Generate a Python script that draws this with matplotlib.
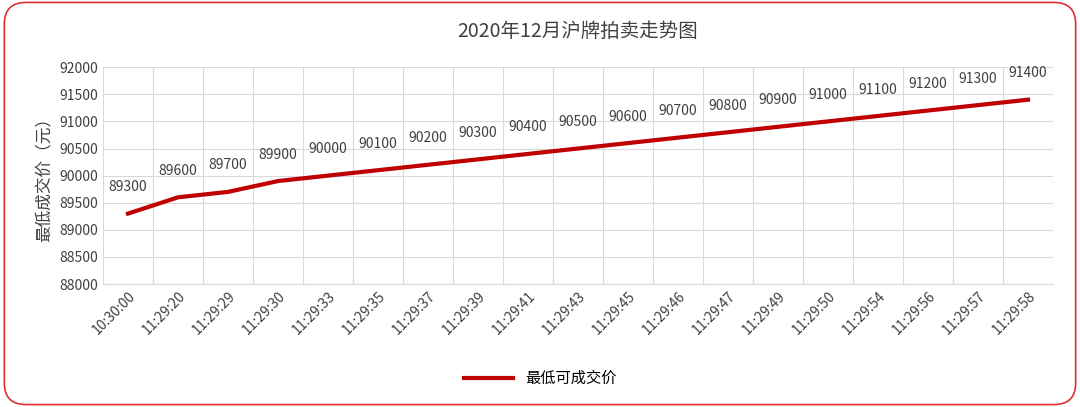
import matplotlib
matplotlib.use("Agg")
import matplotlib.pyplot as plt
from matplotlib.patches import FancyBboxPatch

plt.rcParams['font.family'] = ['Noto Sans CJK SC', 'DejaVu Sans']

times = ["10:30:00","11:29:20","11:29:29","11:29:30","11:29:33","11:29:35","11:29:37",
         "11:29:39","11:29:41","11:29:43","11:29:45","11:29:46","11:29:47","11:29:49",
         "11:29:50","11:29:54","11:29:56","11:29:57","11:29:58"]
prices = [89300,89600,89700,89900,90000,90100,90200,90300,90400,90500,90600,90700,
          90800,90900,91000,91100,91200,91300,91400]
yticks = list(range(88000, 92001, 500))

fig = plt.figure(figsize=(10.8, 4.07), dpi=100)
border = FancyBboxPatch((0.004, 0.006), 0.992, 0.988, boxstyle="round,pad=0,rounding_size=0.02",
                        transform=fig.transFigure, fill=False, edgecolor="#E03030", linewidth=1.2,
                        mutation_aspect=1080/407)
fig.patches.append(border)

ax = fig.add_axes([0.0954, 0.302, 0.8796, 0.533])
x = list(range(len(times)))
ax.plot(x, prices, color="#C00000", linewidth=3, label="最低可成交价", zorder=3)
for xi, p in zip(x, prices):
    ax.annotate(str(p), (xi, p), xytext=(0, 14), textcoords="offset points",
                ha="center", va="bottom", fontsize=10, color="#404040")
ax.set_xlim(-0.5, len(times) - 0.5)
ax.set_ylim(88000, 92000)
ax.set_yticks(yticks)
ax.set_yticklabels([str(v) for v in yticks], fontsize=10, color="#404040")
ax.set_xticks(x)
ax.set_xticklabels(times, rotation=45, ha="right", rotation_mode="anchor", fontsize=10, color="#404040")
ax.set_xticks([i - 0.5 for i in range(len(times) + 1)], minor=True)
ax.grid(True, which="minor", axis="x", color="#D9D9D9", linewidth=0.8)
ax.grid(True, which="major", axis="y", color="#D9D9D9", linewidth=0.8)
ax.tick_params(which="both", length=0)
for s in ["top", "right", "left"]:
    ax.spines[s].set_visible(False)
ax.spines["bottom"].set_color("#D9D9D9")
ax.set_ylabel("最低成交价（元）", fontsize=12, color="#404040")
ax.set_title("2020年12月沪牌拍卖走势图", fontsize=14, color="#404040", pad=22)
fig.legend(loc="center", bbox_to_anchor=(0.5, 0.07), frameon=False, fontsize=11, handlelength=3.2)
fig.savefig("out.png", dpi=100)
